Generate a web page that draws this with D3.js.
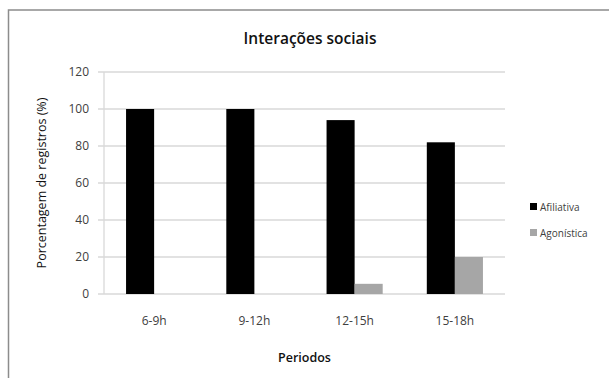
<!DOCTYPE html>
<html>
<head>
<meta charset="utf-8">
<script src="https://cdn.jsdelivr.net/npm/d3@7"></script>
<style>
  body { margin: 0; background: #fff; }
  text { font-family: "Open Sans", "DejaVu Sans", sans-serif; }
</style>
</head>
<body>
<div id="chart-area"></div>
<script>
// data
var periods = ["6-9h", "9-12h", "12-15h", "15-18h"];
var seriesNames = ["Afiliativa", "Agonística"];
var afiliativa = [100, 100, 94, 82];
var agonistica = [0, 0, 5.5, 20];
var yTicks = [0, 20, 40, 60, 80, 100, 120];
var colors = ["#000000", "#a6a6a6"];

var W = 609, H = 378;
var margin = { left: 104, right: 104, top: 72, bottom: 84 };
var w = W - margin.left - margin.right;
var h = H - margin.top - margin.bottom;

var svg = d3.select("#chart-area").append("svg")
    .attr("width", W)
    .attr("height", H);

// chart frame (only left & top visible)
svg.append("rect")
    .attr("x", 8.5).attr("y", 10)
    .attr("width", W + 20).attr("height", H + 20)
    .attr("fill", "none")
    .attr("stroke", "#8c8c8c")
    .attr("stroke-width", 1.5);

var group = svg.append("g")
    .attr("transform", "translate(" + margin.left + ", " + margin.top + ")");

var x = d3.scaleBand()
    .domain(periods)
    .range([0, w])
    .paddingInner(0.44)
    .paddingOuter(0.22);

var x1 = d3.scaleBand()
    .domain(seriesNames)
    .range([0, x.bandwidth()]);

var y = d3.scaleLinear()
    .domain([0, 120])
    .range([h, 0]);

// gridlines
group.append("g")
    .selectAll("line")
    .data(yTicks)
    .enter().append("line")
        .attr("x1", -6)
        .attr("x2", w)
        .attr("y1", (d)=>{return y(d);})
        .attr("y2", (d)=>{return y(d);})
        .attr("stroke", "#d9d9d9")
        .attr("stroke-width", 1.3);

// y axis line
group.append("line")
    .attr("x1", 0).attr("x2", 0)
    .attr("y1", 0).attr("y2", h)
    .attr("stroke", "#d9d9d9")
    .attr("stroke-width", 1.3);

var rows = periods.map((p, i)=>{
    return { period: p, values: [afiliativa[i], agonistica[i]] };
});

var groups = group.selectAll("g.period")
    .data(rows)
    .enter().append("g")
        .attr("class", "period")
        .attr("transform", (d)=>{return "translate(" + x(d.period) + ",0)";});

groups.selectAll("rect")
    .data((d)=>{return d.values.map((v, k)=>{return { name: seriesNames[k], value: v, k: k };});})
    .enter().append("rect")
        .attr("x", (d)=>{return x1(d.name);})
        .attr("y", (d)=>{return y(d.value);})
        .attr("width", x1.bandwidth())
        .attr("height", (d)=>{return h - y(d.value);})
        .attr("fill", (d)=>{return colors[d.k];});

// axes
var left = d3.axisLeft(y).tickValues(yTicks).tickSize(0).tickPadding(15);
group.append("g")
    .attr("class", "left axis")
    .call(left)
    .call((g)=>{g.select(".domain").remove();})
    .selectAll("text")
        .attr("font-size", "12px")
        .attr("fill", "#404040")
        .attr("font-family", "Open Sans, sans-serif");

var bottom = d3.axisBottom(x).tickSize(0).tickPadding(22);
group.append("g")
    .attr("class", "bottom axis")
    .attr("transform", "translate(0, " + h + ")")
    .call(bottom)
    .call((g)=>{g.select(".domain").remove();})
    .selectAll("text")
        .attr("font-size", "12px")
        .attr("fill", "#404040")
        .attr("font-family", "Open Sans, sans-serif");

// titles
svg.append("text")
    .attr("x", 310)
    .attr("y", 44)
    .attr("text-anchor", "middle")
    .attr("font-size", "15.5px")
    .attr("font-weight", "600")
    .attr("fill", "#111")
    .text("Interações sociais");

svg.append("text")
    .attr("x", margin.left + w / 2)
    .attr("y", 362)
    .attr("text-anchor", "middle")
    .attr("font-size", "12.5px")
    .attr("font-weight", "600")
    .attr("fill", "#111")
    .text("Periodos");

svg.append("text")
    .attr("x", -183)
    .attr("y", 46)
    .attr("text-anchor", "middle")
    .attr("transform", "rotate(-90)")
    .attr("font-size", "12.5px")
    .attr("fill", "#111")
    .text("Porcentagem de registros (%)");

// legend
var legend = svg.append("g")
    .attr("transform", "translate(530, 207)");

seriesNames.forEach((name, i)=>{
    var item = legend.append("g")
        .attr("transform", "translate(0," + (i * 26) + ")");
    item.append("rect")
        .attr("x", 0).attr("y", -4)
        .attr("width", 7).attr("height", 7)
        .attr("fill", colors[i]);
    item.append("text")
        .attr("x", 10).attr("y", 0)
        .attr("dy", "0.35em")
        .attr("font-size", "10px")
        .attr("fill", "#404040")
        .text(name);
});
</script>
</body>
</html>
